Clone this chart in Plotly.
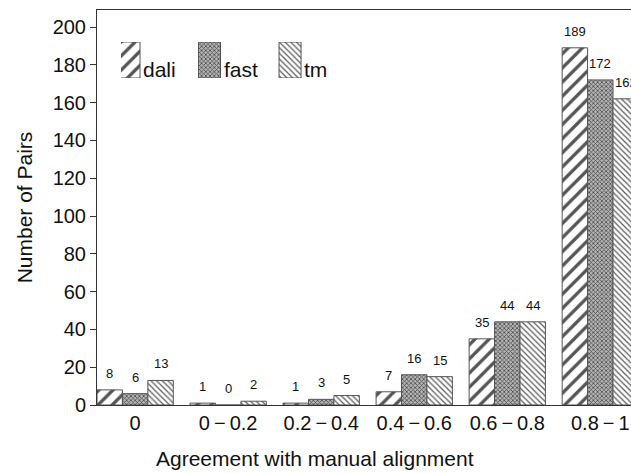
import plotly.graph_objects as go

SEP = "\u2009\u2212\u2009"
categories = ["0", "0" + SEP + "0.2", "0.2" + SEP + "0.4", "0.4" + SEP + "0.6",
              "0.6" + SEP + "0.8", "0.8" + SEP + "1"]
dali = [8, 1, 1, 7, 35, 189]
fast = [6, 0, 3, 16, 44, 172]
tm = [13, 2, 5, 15, 44, 162]
series_names = ["dali", "fast", "tm"]

FONT = "Liberation Sans, Arial, sans-serif"

patterns = [
    dict(shape="/", size=10, solidity=0.33, fgcolor="#555555", bgcolor="white", fgopacity=1),
    dict(shape="x", size=3, solidity=0.45, fgcolor="#4a4a4a", bgcolor="#b4b4b4", fgopacity=1),
    dict(shape="\\", size=4, solidity=0.3, fgcolor="#5a5a5a", bgcolor="white", fgopacity=1),
]
values = [dali, fast, tm]

BARGAP = 0.18
bw = (1 - BARGAP) / 3

fig = go.Figure()
annotations = []
for k, (name, vals, pat) in enumerate(zip(series_names, values, patterns)):
    fig.add_trace(go.Bar(
        x=categories, y=vals, name=name,
        marker=dict(color="white", pattern=pat, line=dict(color="#555555", width=1)),
        showlegend=False, hoverinfo="x+y+name",
    ))
    for i, v in enumerate(vals):
        annotations.append(dict(
            x=i + (k - 1) * bw, y=v, xref="x", yref="y", text=str(v),
            showarrow=False, yanchor="bottom", yshift=7,
            font=dict(family=FONT, size=13, color="#111"),
        ))
    # legend key swatch (overlay axis)
    fig.add_trace(go.Bar(
        x=[k], y=[1], width=[0.273], name=name, xaxis="x2", yaxis="y2",
        marker=dict(color="white", pattern=pat, line=dict(color="#555555", width=1)),
        showlegend=False, hoverinfo="skip",
    ))
    annotations.append(dict(
        x=k + 0.15, y=0.0, xref="x2", yref="y2", text=name, showarrow=False,
        xanchor="left", yanchor="bottom", yshift=-5,
        font=dict(family=FONT, size=21, color="#111"),
    ))

annotations.append(dict(
    x=(315 - 97) / 534, y=0, xref="paper", yref="paper", yshift=-40,
    text="Agreement with manual alignment", showarrow=False,
    xanchor="center", yanchor="top", font=dict(family=FONT, size=21, color="#111"),
))

fig.update_layout(
    width=631, height=474,
    margin=dict(l=97, r=0, t=10, b=69),
    paper_bgcolor="white", plot_bgcolor="white",
    barmode="group", bargap=BARGAP, bargroupgap=0,
    font=dict(family=FONT, color="#111"),
    showlegend=False,
    annotations=annotations,
    xaxis=dict(range=[-0.41, 5.33], showline=True, linecolor="#333", linewidth=1,
               mirror=True, ticks="", tickfont=dict(size=20), automargin=False),
    yaxis=dict(range=[0, 209], tickvals=list(range(0, 201, 20)), showline=True,
               linecolor="#333", linewidth=1, mirror=True, ticks="outside", ticklen=6,
               tickcolor="#333", showgrid=False, zeroline=False, tickfont=dict(size=20),
               automargin=False,
               title=dict(text="Number of Pairs", font=dict(size=21), standoff=14)),
    xaxis2=dict(domain=[0.0449, 0.4972], range=[-0.1, 2.9], anchor="y2",
                visible=False, fixedrange=True),
    yaxis2=dict(domain=[0.8278, 0.919], range=[0, 1], anchor="x2",
                visible=False, fixedrange=True),
)

fig.write_html(
    "out.html",
    config={"displayModeBar": False},
    post_script="document.body.style.margin='0';document.body.style.overflow='hidden';",
)
